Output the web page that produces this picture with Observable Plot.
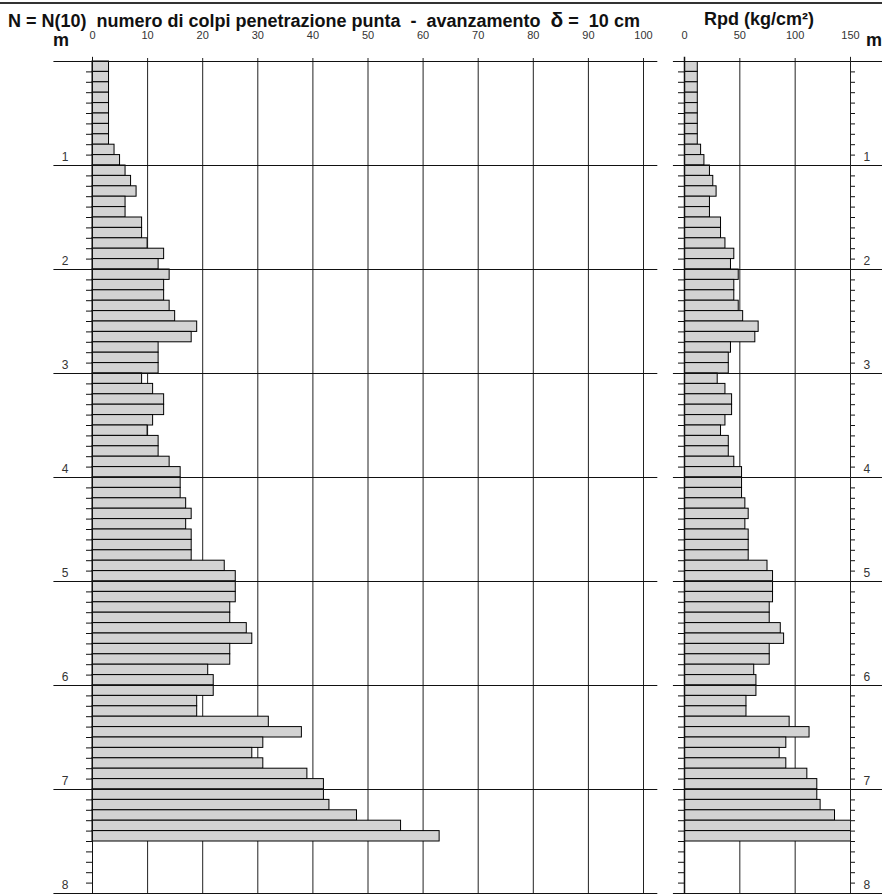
<!DOCTYPE html>
<html><head><meta charset="utf-8">
<script src="https://cdn.jsdelivr.net/npm/d3@7"></script>
<script src="https://cdn.jsdelivr.net/npm/@observablehq/plot@0.6"></script>
<style>
body{margin:0;background:#fff;}
#wrap{position:relative;width:882px;height:894px;overflow:hidden;font-family:"Liberation Sans",Arial,sans-serif;background:#fff;}
.t{position:absolute;white-space:pre;font-weight:bold;font-size:18px;color:#111;line-height:13px;}
#topline{position:absolute;left:0;top:2px;width:882px;height:2px;background:#333;}
#left,#right{position:absolute;top:0;}
#left{left:0;} #right{left:660px;}
</style></head><body>
<div id="wrap">
<div id="topline"></div>
<div class="t" style="left:8px;top:13px">N = N(10)  numero di colpi penetrazione punta  -  avanzamento  <span style="font-size:21px">δ</span> =  10 cm</div>
<div class="t" style="left:704px;top:13px">Rpd (kg/cm²)</div>
<div class="t" style="left:53px;top:34px">m</div>
<div class="t" style="left:866px;top:34px">m</div>
<div id="left"></div><div id="right"></div>
</div>
<script>
const STEP = 0.1; // avanzamento 10 cm
const nValues = [
  3,3,3,3,3,3,3,3,4,5,
  6,7,8,6,6,9,9,10,13,12,
  14,13,13,14,15,19,18,12,12,12,
  9,11,13,13,11,10,12,12,14,16,
  16,16,17,18,17,18,18,18,24,26,
  26,26,25,25,28,29,25,25,21,22,
  22,19,19,32,38,31,29,31,39,42,
  42,43,48,56,63
];
const rpdValues = [
  12,12,12,12,12,12,12,12,15,18,
  23,26,29,23,23,33,33,37,45,42,
  49,45,45,49,53,67,64,42,40,40,
  30,37,43,43,37,33,40,40,45,52,
  52,52,55,58,55,58,58,58,75,80,
  80,80,77,77,87,90,77,77,63,65,
  65,56,56,95,113,92,86,92,111,120,
  120,123,136,159,178
];
const nTicks = [0,10,20,30,40,50,60,70,80,90,100];
const rpdTicks = [0,50,100,150];
const meterLabels = [1,2,3,4,5,6,7,8];
const meterLines = [0,1,2,3,4,5,6,7,8];
const minorTicks = d3.range(1, 81).map(i => i / 10);

const rows = nValues.map((v, i) => ({top: i * STEP, bottom: (i + 1) * STEP, n: v, rpd: rpdValues[i]}));

const H = 894, MT = 61, MB = 1;
const style = {fontFamily: "'Liberation Sans', Arial, sans-serif", fontSize: "12px", color: "#222", background: "transparent", overflow: "visible"};
const barFill = "#d3d3d3";
const fmt = d => String(d);
const none = () => "";

const left = Plot.plot({
  width: 660, height: H, marginTop: MT, marginBottom: MB, marginLeft: 92, marginRight: 17,
  style,
  x: {domain: [0, 100], label: null},
  y: {domain: [0, 8], reverse: true, label: null},
  marks: [
    Plot.gridX(nTicks.filter(d => d > 0), {stroke: "#222", strokeOpacity: 1}),
    Plot.axisX(nTicks, {anchor: "top", tickSize: 4, tickPadding: 19, fontSize: 11, stroke: "#222", fill: "#333", tickFormat: fmt, label: null}),
    Plot.rect(rows, {x1: 0, x2: "n", y1: "top", y2: "bottom", fill: barFill, stroke: "#000", strokeWidth: 1}),
    Plot.ruleY(meterLines, {x1: -7, x2: 102.6, stroke: "#111"}),
    Plot.ruleX([0], {y1: -0.04, y2: 8, stroke: "#111"}),
    Plot.axisY(minorTicks, {anchor: "left", tickSize: 6, tickFormat: none, stroke: "#111", label: null}),
    Plot.axisY(meterLabels, {anchor: "left", tickSize: 0, tickPadding: 24, dy: -8, fontSize: 12, fill: "#333", tickFormat: fmt, label: null})
  ]
});
document.getElementById("left").appendChild(left);

const right = Plot.plot({
  width: 222, height: H, marginTop: MT, marginBottom: MB, marginLeft: 24, marginRight: 32,
  style,
  x: {domain: [0, 150], label: null},
  y: {domain: [0, 8], reverse: true, label: null},
  marks: [
    Plot.gridX([50, 100], {stroke: "#222", strokeOpacity: 1}),
    Plot.axisX(rpdTicks, {anchor: "top", tickSize: 4, tickPadding: 19, fontSize: 11, stroke: "#222", fill: "#333", tickFormat: fmt, label: null}),
    Plot.rect(rows, {x1: 0, x2: "rpd", y1: "top", y2: "bottom", fill: barFill, stroke: "#000", strokeWidth: 1, clip: true}),
    Plot.ruleY(meterLines, {x1: -10, x2: 200, stroke: "#111"}),
    Plot.ruleX([0], {y1: -0.04, y2: 8, stroke: "#111", strokeWidth: 1.5}),
    Plot.ruleX([150], {y1: -0.04, y2: 8, stroke: "#222"}),
    Plot.axisY(minorTicks, {anchor: "left", tickSize: 6, tickFormat: none, stroke: "#111", label: null}),
    Plot.axisY(minorTicks, {anchor: "right", tickSize: 4, tickFormat: none, stroke: "#111", label: null}),
    Plot.axisY(meterLabels, {anchor: "right", tickSize: 0, tickPadding: 13, dy: -8, fontSize: 12, fill: "#333", tickFormat: fmt, label: null})
  ]
});
document.getElementById("right").appendChild(right);
</script>
</body></html>
